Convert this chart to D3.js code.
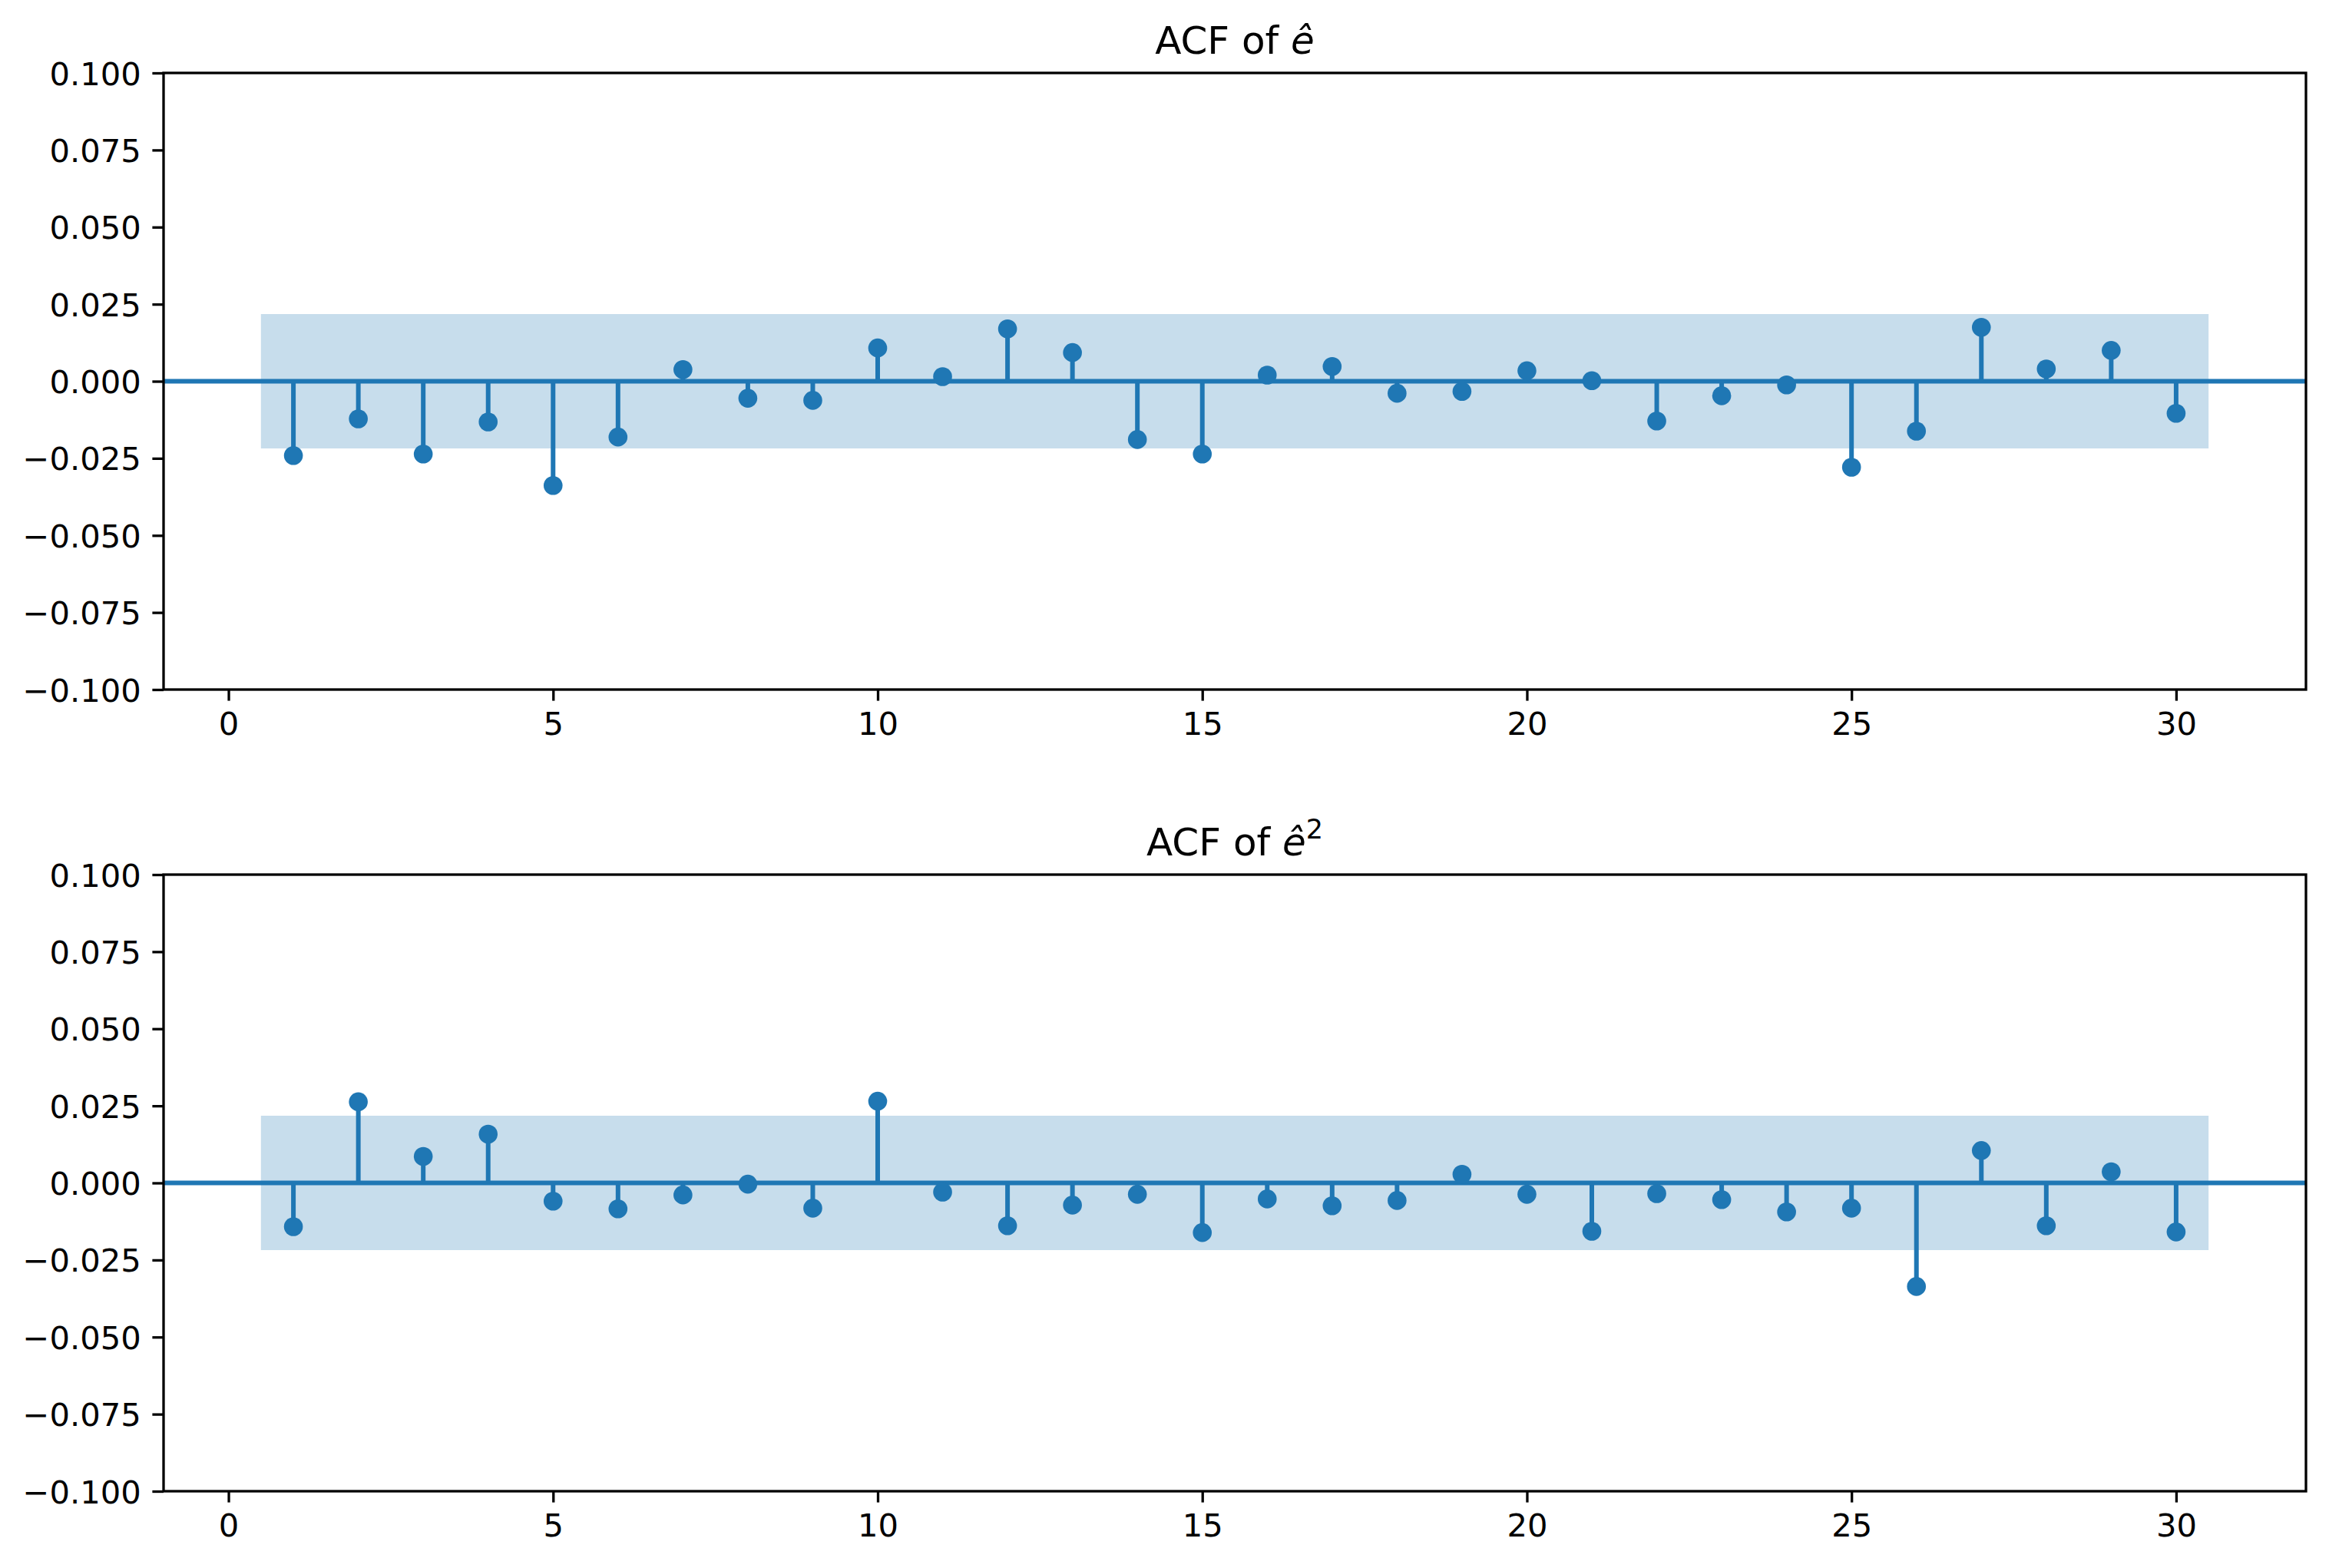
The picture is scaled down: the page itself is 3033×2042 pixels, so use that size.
<!DOCTYPE html>
<html>
<head>
<meta charset="utf-8">
<script src="https://cdn.jsdelivr.net/npm/d3@7"></script>
<style>
  html, body { margin: 0; padding: 0; background: #fff; }
  svg { display: block; }
  text { font-family: "DejaVu Sans", sans-serif; }
</style>
</head>
<body>
<script>
// ---- data ----
const lags = [1,2,3,4,5,6,7,8,9,10,11,12,13,14,15,16,17,18,19,20,21,22,23,24,25,26,27,28,29,30];
const acfResid = [-0.0241,-0.0122,-0.0236,-0.0132,-0.0338,-0.0181,0.0038,-0.0055,-0.0062,0.0108,
                  0.0015,0.0170,0.0093,-0.0189,-0.0236,0.0020,0.0048,-0.0039,-0.0033,0.0034,
                  0.0002,-0.0129,-0.0047,-0.0012,-0.0279,-0.0162,0.0175,0.0040,0.0100,-0.0104];
const acfResidSq = [-0.0142,0.0263,0.0086,0.0158,-0.0059,-0.0084,-0.0039,-0.0004,-0.0082,0.0265,
                    -0.0030,-0.0139,-0.0072,-0.0037,-0.0161,-0.0052,-0.0074,-0.0057,0.0028,-0.0037,
                    -0.0157,-0.0035,-0.0054,-0.0094,-0.0082,-0.0336,0.0105,-0.0139,0.0036,-0.0159];
const confBand = 0.0218;
const xTicks = [0,5,10,15,20,25,30];
const yTicks = [-0.1,-0.075,-0.05,-0.025,0,0.025,0.05,0.075,0.1];
const xDomain = [-1, 32];
const yDomain = [-0.1, 0.1];

const W = 3033, H = 2042;
const C0 = "#1f77b4";
const svg = d3.select("body").append("svg").attr("width", W).attr("height", H);

const left = 213, right = 3003;
const panels = [
  { top: 95, bottom: 898, values: acfResid, sup: null },
  { top: 1139, bottom: 1942, values: acfResidSq, sup: "2" }
];

const fmt = v => { const s = Math.abs(v).toFixed(3); return (v < -1e-12 ? "\u2212" : "") + s; };

panels.forEach(p => {
  const x = d3.scaleLinear().domain(xDomain).range([left, right]);
  const y = d3.scaleLinear().domain(yDomain).range([p.bottom, p.top]);
  const g = svg.append("g");

  // confidence band
  const bandData = lags.map((l, i) => ({ x: i === 0 ? l - 0.5 : (i === lags.length - 1 ? l + 0.5 : l) }));
  g.append("path")
    .datum(bandData)
    .attr("d", d3.area().x(d => x(d.x)).y0(y(-confBand)).y1(y(confBand)))
    .attr("fill", C0).attr("fill-opacity", 0.25);

  // stems
  g.selectAll(".stem").data(lags).enter().append("line")
    .attr("x1", d => x(d)).attr("x2", d => x(d))
    .attr("y1", y(0)).attr("y2", (d, i) => y(p.values[i]))
    .attr("stroke", C0).attr("stroke-width", 6);

  // zero line
  g.append("line")
    .attr("x1", left).attr("x2", right).attr("y1", y(0)).attr("y2", y(0))
    .attr("stroke", C0).attr("stroke-width", 6);

  // markers
  g.selectAll(".pt").data(lags).enter().append("circle")
    .attr("cx", d => x(d)).attr("cy", (d, i) => y(p.values[i]))
    .attr("r", 12.3).attr("fill", C0);

  // axes
  const xAxis = d3.axisBottom(x).tickValues(xTicks).tickSize(14.6).tickPadding(14.6).tickFormat(d3.format("d"));
  const yAxis = d3.axisLeft(y).tickValues(yTicks).tickSize(14.6).tickPadding(14.6).tickFormat(fmt);
  const gx = g.append("g").attr("transform", `translate(0,${p.bottom})`).call(xAxis);
  const gy = g.append("g").attr("transform", `translate(${left},0)`).call(yAxis);
  [gx, gy].forEach(a => {
    a.select(".domain").remove();
    a.selectAll(".tick line").attr("stroke", "#000").attr("stroke-width", 3.3);
    a.selectAll(".tick text").attr("font-size", 41.7).attr("fill", "#000").attr("font-family", "DejaVu Sans");
  });
  gy.selectAll(".tick text").attr("dy", "0.36em");
  gx.selectAll(".tick text").attr("dy", "0.72em");

  // frame
  g.append("rect")
    .attr("x", left).attr("y", p.top).attr("width", right - left).attr("height", p.bottom - p.top)
    .attr("fill", "none").attr("stroke", "#000").attr("stroke-width", 3.3);

  // title
  const t = g.append("text")
    .attr("x", (left + right) / 2).attr("y", p.top - 25)
    .attr("text-anchor", "middle").attr("font-size", 50).attr("fill", "#000");
  t.append("tspan").text("ACF of ");
  t.append("tspan").attr("font-style", "italic").text("ê");
  if (p.sup) {
    t.append("tspan").attr("font-size", 35).attr("dy", -22).text(p.sup);
  }
});
</script>
</body>
</html>
